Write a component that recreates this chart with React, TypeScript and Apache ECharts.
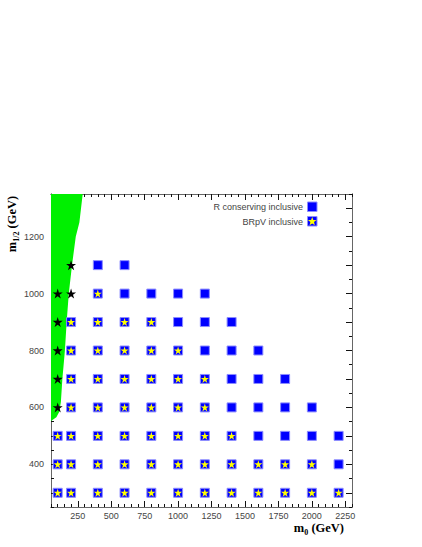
import React, { useEffect, useRef } from "react";
import * as echarts from "echarts";

// ---- data ----
const m12Rows = [300, 400, 500, 600, 700, 800, 900, 1000, 1100];
const rConservingM0 = [
  [100, 200, 400, 600, 800, 1000, 1200, 1400, 1600, 1800, 2000, 2200],
  [100, 200, 400, 600, 800, 1000, 1200, 1400, 1600, 1800, 2000, 2200],
  [100, 200, 400, 600, 800, 1000, 1200, 1400, 1600, 1800, 2000, 2200],
  [200, 400, 600, 800, 1000, 1200, 1400, 1600, 1800, 2000],
  [200, 400, 600, 800, 1000, 1200, 1400, 1600, 1800],
  [200, 400, 600, 800, 1000, 1200, 1400, 1600],
  [200, 400, 600, 800, 1000, 1200, 1400],
  [400, 600, 800, 1000, 1200],
  [400, 600],
];
const brpvM0 = [
  [100, 200, 400, 600, 800, 1000, 1200, 1400, 1600, 1800, 2000, 2200],
  [100, 200, 400, 600, 800, 1000, 1200, 1400, 1600, 1800, 2000],
  [100, 200, 400, 600, 800, 1000, 1200, 1400],
  [200, 400, 600, 800, 1000, 1200],
  [200, 400, 600, 800, 1000, 1200],
  [200, 400, 600, 800, 1000],
  [200, 400, 600, 800],
  [400],
  [],
];
const excludedM0 = [[], [], [], [100], [100], [100], [100], [100, 200], [200]];

// green excluded region boundary (top to bottom)
const greenBoundaryM0 = [287, 262, 235, 207, 183, 167, 154, 135, 124, 112, 90, 50];
const greenBoundaryM12 = [1350, 1250, 1200, 1100, 1000, 900, 800, 700, 620, 585, 565, 552];

const xMin = 50;
const xMax = 2300;
const yMin = 250;
const yMax = 1350;
const xMajorTicks = [250, 500, 750, 1000, 1250, 1500, 1750, 2000, 2250];
const yMajorTicks = [300, 400, 500, 600, 700, 800, 900, 1000, 1100, 1200, 1300];
const yLabels = [400, 600, 800, 1000, 1200];

const legendNames = ["R conserving inclusive", "BRpV inclusive"];

const STAR =
  "path://M50,2 L61.2,36.5 L97.6,36.5 L68.2,57.9 L79.4,92.4 L50,71 L20.6,92.4 L31.8,57.9 L2.4,36.5 L38.8,36.5 Z";

function toPoints(rows: number[][]): number[][] {
  const out: number[][] = [];
  rows.forEach((r, i) => r.forEach((m0) => out.push([m0, m12Rows[i]])));
  return out;
}

function starPoints(cx: number, cy: number, R: number, r: number) {
  const pts: number[][] = [];
  for (let i = 0; i < 10; i++) {
    const a = -Math.PI / 2 + (i * Math.PI) / 5;
    const rad = i % 2 === 0 ? R : r;
    pts.push([cx + rad * Math.cos(a), cy + rad * Math.sin(a)]);
  }
  return pts;
}

const LINE = "#666";
const TICK = "#111";
const LABEL = "#444";
const SANS = "Liberation Sans, Arial, sans-serif";
const SERIF = "Liberation Serif, Times New Roman, serif";
const plain = (v: number) => String(v);

export default function App() {
  const ref = useRef<HTMLDivElement>(null);
  useEffect(() => {
    if (!ref.current) return;
    const chart = echarts.init(ref.current, undefined, { renderer: "svg" });

    const baseX = {
      type: "value" as const,
      min: xMin,
      max: xMax,
      splitLine: { show: false },
      axisLine: { show: true, onZero: false, lineStyle: { color: LINE, width: 1 } },
    };
    const baseY = {
      type: "value" as const,
      min: yMin,
      max: yMax,
      splitLine: { show: false },
      axisLine: { show: true, onZero: false, lineStyle: { color: LINE, width: 1 } },
    };

    const xAxes = [
      {
        ...baseX,
        position: "bottom",
        axisTick: { show: true, inside: true, length: 6, customValues: xMajorTicks, lineStyle: { color: TICK } },
        axisLabel: {
          show: true,
          customValues: xMajorTicks,
          formatter: plain,
          color: LABEL,
          fontSize: 9,
          fontFamily: SANS,
          margin: 4,
        },
      },
      {
        ...baseX,
        position: "bottom",
        interval: 50,
        axisTick: { show: true, inside: true, length: 3, lineStyle: { color: TICK } },
        axisLabel: { show: false },
      },
      {
        ...baseX,
        position: "top",
        axisTick: { show: true, inside: true, length: 6, customValues: xMajorTicks, lineStyle: { color: TICK } },
        axisLabel: { show: false },
      },
      {
        ...baseX,
        position: "top",
        interval: 50,
        axisTick: { show: true, inside: true, length: 3, lineStyle: { color: TICK } },
        axisLabel: { show: false },
      },
    ];
    const yAxes = [
      {
        ...baseY,
        position: "left",
        axisTick: { show: true, inside: true, length: 6, customValues: yMajorTicks, lineStyle: { color: TICK } },
        axisLabel: {
          show: true,
          customValues: yLabels,
          formatter: plain,
          color: LABEL,
          fontSize: 9,
          fontFamily: SANS,
          margin: 7,
        },
      },
      {
        ...baseY,
        position: "left",
        interval: 50,
        axisTick: { show: true, inside: true, length: 3, lineStyle: { color: TICK } },
        axisLabel: { show: false },
      },
      {
        ...baseY,
        position: "right",
        axisTick: { show: true, inside: true, length: 6, customValues: yMajorTicks, lineStyle: { color: TICK } },
        axisLabel: { show: false },
      },
      {
        ...baseY,
        position: "right",
        interval: 50,
        axisTick: { show: true, inside: true, length: 3, lineStyle: { color: TICK } },
        axisLabel: { show: false },
      },
    ];

    const boundary = greenBoundaryM0.map((x, i) => [x, greenBoundaryM12[i]]);

    const titleRich = {
      m: { fontSize: 12.5, fontWeight: "bold", fontFamily: SERIF, fill: "#000", lineHeight: 16, verticalAlign: "middle" },
      s: { fontSize: 8, fontWeight: "bold", fontFamily: SERIF, fill: "#000", lineHeight: 16, verticalAlign: "bottom", padding: [6, 0, 0, 0] },
    };

    const option: any = {
      animation: false,
      backgroundColor: "#fff",
      grid: { left: 51, top: 194, right: 70, bottom: 40, containLabel: false },
      xAxis: xAxes,
      yAxis: yAxes,
      series: [
        {
          type: "custom",
          xAxisIndex: 0,
          yAxisIndex: 0,
          silent: true,
          z: 1,
          data: [[xMin, yMax]],
          renderItem: (_params: any, api: any) => {
            const pts = [[xMin, yMax], ...boundary].map((p) => api.coord(p));
            return {
              type: "polygon",
              shape: { points: pts },
              style: { fill: "#00f000", stroke: "none" },
            };
          },
        },
        {
          name: legendNames[0],
          type: "scatter",
          z: 3,
          symbol: "rect",
          symbolSize: 9,
          itemStyle: { color: "#0000ff", borderColor: "#8c8cff", borderWidth: 1, opacity: 1 },
          data: toPoints(rConservingM0),
        },
        {
          name: legendNames[1],
          type: "scatter",
          z: 4,
          symbol: STAR,
          symbolSize: 8,
          itemStyle: { color: "#ffff00", opacity: 1 },
          data: toPoints(brpvM0),
        },
        {
          name: "excluded",
          type: "scatter",
          z: 4,
          symbol: STAR,
          symbolSize: 10,
          itemStyle: { color: "#000000", opacity: 1 },
          data: toPoints(excludedM0),
        },
      ],
      graphic: [
        {
          type: "text",
          x: 303,
          y: 207,
          style: {
            text: legendNames[0],
            align: "right",
            verticalAlign: "middle",
            fontSize: 9,
            fontFamily: SANS,
            fill: LABEL,
          },
        },
        {
          type: "rect",
          shape: { x: 307.5, y: 202, width: 9.5, height: 9.5 },
          style: { fill: "#0000ff", stroke: "#8c8cff", lineWidth: 1 },
        },
        {
          type: "text",
          x: 303,
          y: 221.5,
          style: {
            text: legendNames[1],
            align: "right",
            verticalAlign: "middle",
            fontSize: 9,
            fontFamily: SANS,
            fill: LABEL,
          },
        },
        {
          type: "rect",
          shape: { x: 307.5, y: 216.5, width: 9.5, height: 9.5 },
          style: { fill: "#0000ff", stroke: "#8c8cff", lineWidth: 1 },
        },
        {
          type: "polygon",
          shape: { points: starPoints(312.2, 221.5, 4.5, 1.9) },
          style: { fill: "#ffff00" },
        },
        {
          type: "text",
          x: 344,
          y: 528,
          style: {
            text: "{m|m}{s|0}{m| (GeV)}",
            align: "right",
            verticalAlign: "middle",
            rich: titleRich,
          },
        },
        {
          type: "text",
          x: 12,
          y: 224,
          rotation: Math.PI / 2,
          style: {
            text: "{m|m}{s|1/2}{m| (GeV)}",
            align: "center",
            verticalAlign: "middle",
            rich: titleRich,
          },
        },
      ],
    };
    chart.setOption(option);
    return () => chart.dispose();
  }, []);
  return (
    <div
      ref={ref}
      style={{ position: "fixed", left: 0, top: 0, width: 422, height: 547, background: "#fff" }}
    />
  );
}
